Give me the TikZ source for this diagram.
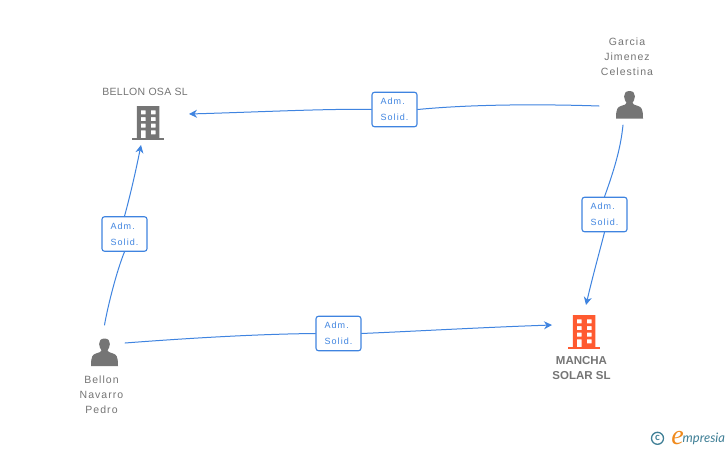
\documentclass[tikz,border=0pt]{standalone}
\usepackage{fontspec}
\setmainfont{Liberation Sans}
\newfontfamily\lblfont[LetterSpace=12]{Liberation Sans}
\newfontfamily\namefont[LetterSpace=10]{Liberation Sans}
\newfontfamily\capsfont[LetterSpace=3]{Liberation Sans}
\newfontfamily\logofont{Lato}
\newfontfamily\logoefont{Liberation Serif}
\usetikzlibrary{arrows.meta}
\definecolor{greyink}{HTML}{757575}
\definecolor{blueline}{HTML}{3F84E0}
\definecolor{orangeink}{HTML}{FF5A30}
\definecolor{tealink}{HTML}{3F7F96}
\definecolor{logoorange}{HTML}{F08A1D}
\tikzset{
  x=1pt,y=-1pt,
  link/.style={draw=blueline,line width=1pt,line cap=round},
  linkarrow/.style={link,-{Stealth[length=8pt,width=8pt]}},
  tag/.style={draw=blueline,line width=1.1pt,fill=white,rounded corners=2.5pt,minimum width=45pt,minimum height=34.5pt,inner sep=0pt,align=left,text=blueline,font=\lblfont\fontsize{9}{16}\selectfont},
  namelabel/.style={align=center,text=greyink,inner sep=0pt,font=\namefont\fontsize{10.5}{15}\selectfont},
  capslabel/.style={align=center,text=greyink,inner sep=0pt,font=\capsfont\fontsize{10.5}{15}\selectfont},
  boldlabel/.style={align=center,text=greyink,inner sep=0pt,font=\bfseries\fontsize{11.5}{15}\selectfont},
  iconbox/.style={minimum width=32pt,minimum height=34pt,inner sep=0pt}
}
\newcommand{\buildingicon}[2]{% #1 = body centre node, #2 = colour
  \begin{scope}[shift={(#1)},shift={(-11.2,-17)}]
    \fill[#2,even odd rule] (0,0) rectangle (22.6,32)
      (4,4.3) rectangle (8.7,8.3) (14,4.3) rectangle (18.7,8.3)
      (4,11) rectangle (8.7,15) (14,11) rectangle (18.7,15)
      (4,17.7) rectangle (8.7,21.7) (14,17.7) rectangle (18.7,21.7)
      (14,24.3) rectangle (18.7,28.3)
      (4,24.3) rectangle (8.7,32);
    \fill[#2] (-4.5,31.6) rectangle (27.3,34.3);
  \end{scope}}
\newcommand{\personicon}[1]{%
  \begin{scope}[shift={(#1)}]
    \fill[greyink] (0,-14) .. controls (3.8,-14) and (5.6,-11.5) .. (5.4,-8.5)
      .. controls (5.2,-5.5) and (4,-3.6) .. (3,-2.2)
      .. controls (3,-0.6) and (5,-0.2) .. (8,0.8)
      .. controls (12,2) and (13.5,3.5) .. (13.5,13.5)
      -- (-13.5,13.5)
      .. controls (-13.5,3.5) and (-12,2) .. (-8,0.8)
      .. controls (-5,-0.2) and (-3,-0.6) .. (-3,-2.2)
      .. controls (-4,-3.6) and (-5.2,-5.5) .. (-5.4,-8.5)
      .. controls (-5.6,-11.5) and (-3.8,-14) .. (0,-14) -- cycle;
  \end{scope}}
\begin{document}
\begin{tikzpicture}
\useasboundingbox (0,0) rectangle (728,450);
\fill[white] (0,0) rectangle (728,450);

% entity anchors (icon boxes)
\node[iconbox] (osa) at (148,123) {};
\node[iconbox] (mancha) at (584,332) {};
\node[iconbox] (garcia) at (629.5,105) {};
\node[iconbox] (bellon) at (104.5,352.5) {};

% connector tags
\node[tag] (t1) at (394.5,109.5) {Adm.\\Solid.};
\node[tag] (t2) at (604.5,214.5) {Adm.\\Solid.};
\node[tag] (t3) at (124.5,234) {Adm.\\Solid.};
\node[tag] (t4) at (338.5,333.5) {Adm.\\Solid.};

% connectors
\draw[link] ([shift={(-30.5,1)}]garcia.center) .. controls (555,104.5) and (480,103.5) .. (t1.east);
\draw[linkarrow] (t1.west) .. controls (330,108.5) and (260,112) .. ([shift={(41,-9)}]osa.center);
\draw[link] ([shift={(-6.5,20)}]garcia.center) .. controls (621,145) and (616,165) .. (t2.north);
\draw[linkarrow] (t2.south) .. controls (600,250) and (593,275) .. ([shift={(2,-27)}]mancha.center);
\draw[link] ([shift={(0,-27.5)}]bellon.center) .. controls (108,305) and (117,270) .. (t3.south);
\draw[linkarrow] (t3.north) .. controls (129,200) and (135,175) .. ([shift={(-7,22)}]osa.center);
\draw[link] ([shift={(20.5,-9.5)}]bellon.center) .. controls (190,338) and (260,334) .. (t4.west);
\draw[linkarrow] (t4.east) .. controls (420,331) and (480,327.5) .. ([shift={(-32,-7)}]mancha.center);

% icons
\buildingicon{osa.center}{greyink}
\buildingicon{mancha.center}{orangeink}
\personicon{garcia.center}
\personicon{bellon.center}

% texts
\node[capslabel] (osaname) at (145,92) {BELLON OSA SL};
\node[namelabel] (garcianame) at (627,57) {Garcia\\Jimenez\\Celestina};
\node[namelabel] (bellonname) at (101.5,395) {Bellon\\Navarro\\Pedro};
\node[boldlabel] (manchaname) at (581.5,368.5) {MANCHA\\SOLAR SL};

% logo
\node[draw=tealink,line width=1.3pt,circle,minimum size=12pt,inner sep=0pt,text=tealink,font=\logofont\bfseries\fontsize{10}{10}\selectfont] (copy) at (657.5,438.3) {c};
\node[inner sep=0pt,text=logoorange,font=\logoefont\itshape\fontsize{28}{28}\selectfont,anchor=base] (loge) at (677.5,444) {e};
\node[inner sep=0pt,text=tealink,font=\logofont\itshape\fontsize{13}{13}\selectfont,anchor=base west] (logt) at (682.5,442.5) {mpresia};
\end{tikzpicture}
\end{document}
